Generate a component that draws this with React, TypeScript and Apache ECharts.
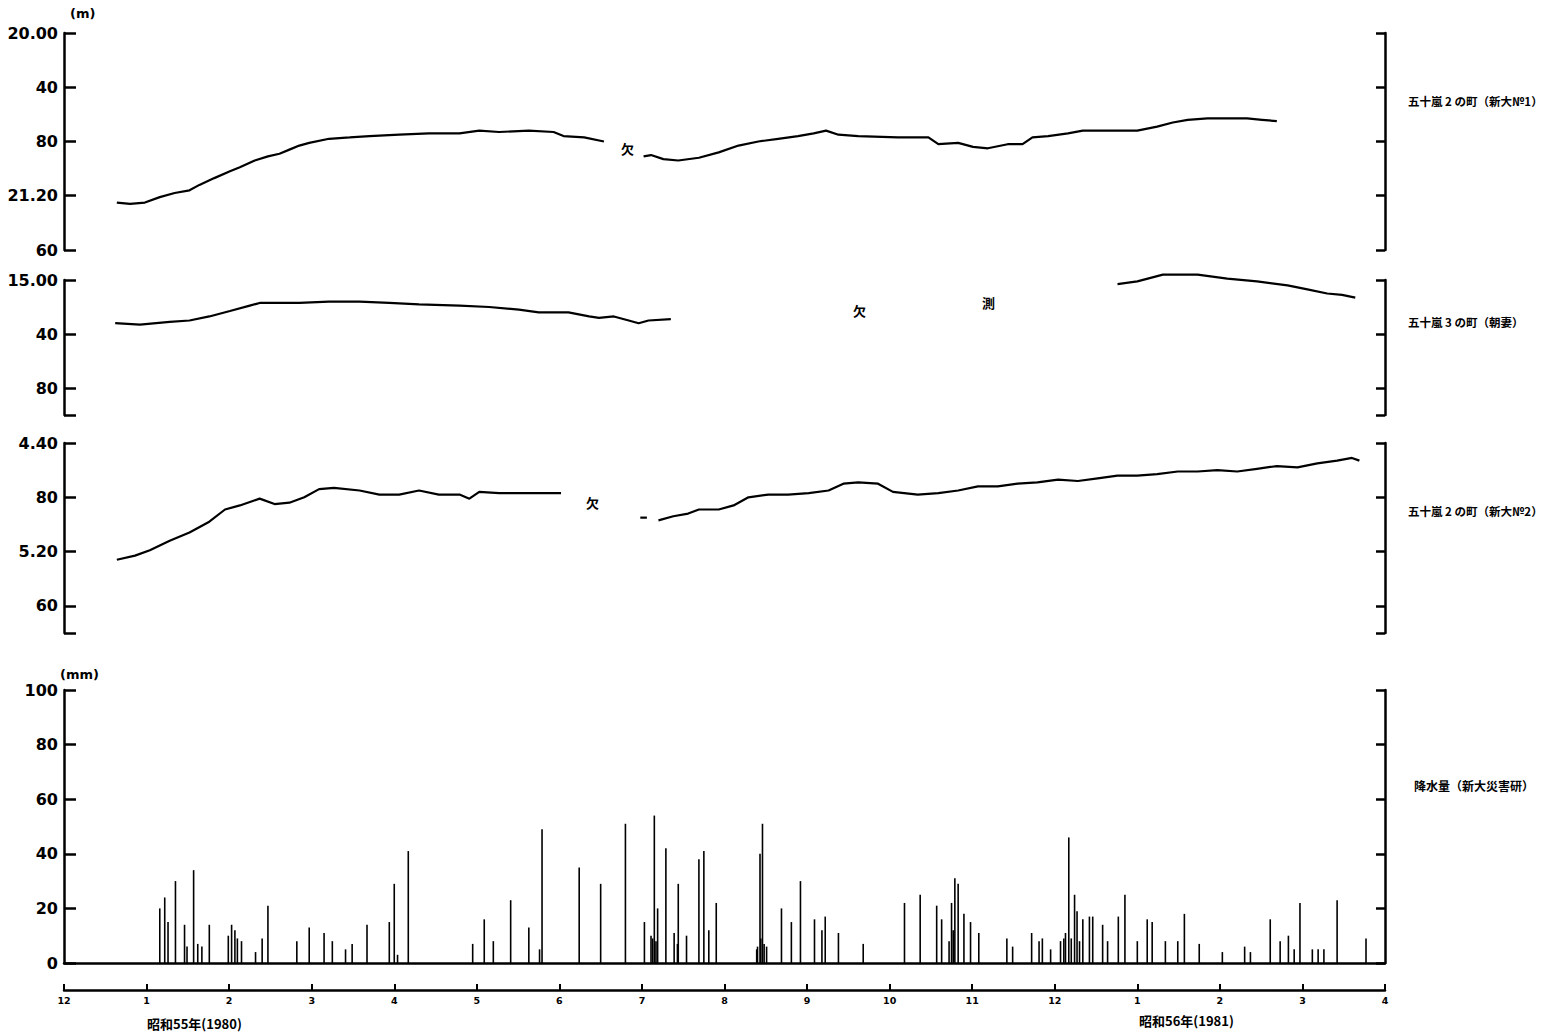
import React, { useEffect, useRef } from "react";
import * as echarts from "echarts";

// x values are months counted from 1 Dec 1979 (0) to 1 Apr 1981 (16)
const monthTickLabels = ["12", "1", "2", "3", "4", "5", "6", "7", "8", "9", "10", "11", "12", "1", "2", "3", "4"];

// Panel 1: 五十嵐2の町（新大№1） groundwater depth (m)
const well1TickLabels = ["20.00", "40", "80", "21.20", "60"];
const well1SegA: [number, number][] = [
  [0.64, 21.25], [0.80, 21.26], [0.98, 21.25], [1.16, 21.21], [1.34, 21.18], [1.52, 21.16],
  [1.64, 21.12], [1.82, 21.07], [2.01, 21.02], [2.13, 20.99], [2.31, 20.94], [2.47, 20.91],
  [2.61, 20.89], [2.73, 20.86], [2.85, 20.83], [2.97, 20.81], [3.21, 20.78], [3.46, 20.77],
  [3.70, 20.76], [4.06, 20.75], [4.42, 20.74], [4.79, 20.74], [5.03, 20.72], [5.27, 20.73],
  [5.63, 20.72], [5.93, 20.73], [6.05, 20.76], [6.30, 20.77], [6.54, 20.80],
];
const well1SegB: [number, number][] = [
  [7.02, 20.91], [7.11, 20.90], [7.26, 20.93], [7.44, 20.94], [7.69, 20.92], [7.93, 20.88],
  [8.17, 20.83], [8.41, 20.80], [8.65, 20.78], [8.89, 20.76], [9.08, 20.74], [9.23, 20.72],
  [9.38, 20.75], [9.62, 20.76], [10.10, 20.77], [10.47, 20.77], [10.59, 20.82], [10.83, 20.81],
  [11.01, 20.84], [11.19, 20.85], [11.43, 20.82], [11.61, 20.82], [11.73, 20.77], [11.92, 20.76],
  [12.16, 20.74], [12.34, 20.72], [12.52, 20.72], [12.76, 20.72], [13.00, 20.72], [13.24, 20.69],
  [13.43, 20.66], [13.61, 20.64], [13.85, 20.63], [14.09, 20.63], [14.33, 20.63], [14.51, 20.64],
  [14.69, 20.65],
];

// Panel 2: 五十嵐3の町（朝妻）
const well2TickLabels = ["15.00", "40", "80"];
const well2SegA: [number, number][] = [
  [0.62, 15.32], [0.92, 15.33], [1.28, 15.31], [1.52, 15.30], [1.76, 15.27], [2.01, 15.23],
  [2.25, 15.19], [2.37, 15.17], [2.61, 15.17], [2.85, 15.17], [3.21, 15.16], [3.58, 15.16],
  [3.94, 15.17], [4.30, 15.18], [4.79, 15.19], [5.15, 15.20], [5.51, 15.22], [5.75, 15.24],
  [6.11, 15.24], [6.36, 15.27], [6.48, 15.28], [6.66, 15.27], [6.84, 15.30], [6.96, 15.32],
  [7.08, 15.30], [7.35, 15.29],
];
const well2SegB: [number, number][] = [
  [12.76, 15.03], [13.00, 15.01], [13.31, 14.96], [13.73, 14.96], [14.09, 14.99], [14.45, 15.01],
  [14.82, 15.04], [15.06, 15.07], [15.30, 15.10], [15.48, 15.11], [15.64, 15.13],
];

// Panel 3: 五十嵐2の町（新大№2）
const well3TickLabels = ["4.40", "80", "5.20", "60"];
const well3SegA: [number, number][] = [
  [0.64, 5.26], [0.86, 5.23], [1.04, 5.19], [1.28, 5.12], [1.52, 5.06], [1.76, 4.98],
  [1.95, 4.89], [2.13, 4.86], [2.37, 4.81], [2.55, 4.85], [2.73, 4.84], [2.91, 4.80],
  [3.09, 4.74], [3.27, 4.73], [3.58, 4.75], [3.82, 4.78], [4.06, 4.78], [4.30, 4.75],
  [4.54, 4.78], [4.79, 4.78], [4.91, 4.81], [5.03, 4.76], [5.27, 4.77], [5.63, 4.77], [6.02, 4.77],
];
const well3SegB: [number, number][] = [[6.98, 4.95], [7.06, 4.95]];
const well3SegC: [number, number][] = [
  [7.20, 4.97], [7.38, 4.94], [7.56, 4.92], [7.69, 4.89], [7.93, 4.89], [8.11, 4.86],
  [8.29, 4.80], [8.53, 4.78], [8.77, 4.78], [9.02, 4.77], [9.26, 4.75], [9.44, 4.70],
  [9.62, 4.69], [9.86, 4.70], [10.04, 4.76], [10.34, 4.78], [10.59, 4.77], [10.83, 4.75],
  [11.07, 4.72], [11.31, 4.72], [11.55, 4.70], [11.79, 4.69], [12.04, 4.67], [12.28, 4.68],
  [12.52, 4.66], [12.76, 4.64], [13.00, 4.64], [13.24, 4.63], [13.49, 4.61], [13.73, 4.61],
  [13.97, 4.60], [14.21, 4.61], [14.45, 4.59], [14.69, 4.57], [14.94, 4.58], [15.18, 4.55],
  [15.42, 4.53], [15.60, 4.51], [15.69, 4.53],
];

// Panel 4: 降水量（新大災害研） daily precipitation (mm)
const rainTickLabels = ["0", "20", "40", "60", "80", "100"];
const rainMonth = [
  1.16, 1.22, 1.26, 1.35, 1.46, 1.49, 1.57, 1.62, 1.67, 1.76, 1.99, 2.03, 2.07, 2.10, 2.15,
  2.32, 2.40, 2.47, 2.82, 2.97, 3.15, 3.25, 3.41, 3.49, 3.67, 3.94, 4.00, 4.04, 4.17, 4.95,
  5.09, 5.20, 5.41, 5.63, 5.76, 5.79, 6.24, 6.50, 6.80, 7.03, 7.11, 7.13, 7.15, 7.17, 7.19,
  7.29, 7.39, 7.43, 7.44, 7.54, 7.69, 7.75, 7.81, 7.90, 8.39, 8.40, 8.43, 8.44, 8.46, 8.48,
  8.51, 8.69, 8.81, 8.92, 9.09, 9.18, 9.22, 9.38, 9.68, 10.18, 10.37, 10.57, 10.63, 10.72,
  10.75, 10.77, 10.79, 10.83, 10.90, 10.98, 11.08, 11.42, 11.49, 11.72, 11.81, 11.85, 11.95,
  12.07, 12.11, 12.13, 12.17, 12.20, 12.24, 12.27, 12.30, 12.34, 12.42, 12.46, 12.58, 12.64,
  12.77, 12.85, 13.00, 13.12, 13.18, 13.34, 13.49, 13.57, 13.75, 14.03, 14.30, 14.37, 14.61,
  14.73, 14.83, 14.90, 14.97, 15.12, 15.19, 15.26, 15.42, 15.77,
];
const rainMm = [
  20, 24, 15, 30, 14, 6, 34, 7, 6, 14, 10, 14, 12, 9, 8,
  4, 9, 21, 8, 13, 11, 8, 5, 7, 14, 15, 29, 3, 41, 7,
  16, 8, 23, 13, 5, 49, 35, 29, 51, 15, 10, 9, 54, 8, 20,
  42, 11, 7, 29, 10, 38, 41, 12, 22, 5, 6, 40, 9, 51, 7,
  6, 20, 15, 30, 16, 12, 17, 11, 7, 22, 25, 21, 16, 8,
  22, 12, 31, 29, 18, 15, 11, 9, 6, 11, 8, 9, 5,
  8, 9, 11, 46, 9, 25, 19, 8, 16, 17, 17, 14, 8,
  17, 25, 8, 16, 15, 8, 8, 18, 7, 4, 6, 4, 16,
  8, 10, 5, 22, 5, 5, 5, 23, 9,
];

const seriesLabels = [
  "五十嵐 2 の町（新大№1）",
  "五十嵐 3 の町（朝妻）",
  "五十嵐 2 の町（新大№2）",
  "降水量（新大災害研）",
];
const yearLabels = ["昭和55年(1980)", "昭和56年(1981)"];

const LEFT = 64;
const RIGHT = 172;
const AXIS_COLOR = "#000";
const NUM_FONT = "DejaVu Sans";
const CJK_FONT = "Noto Sans CJK JP";

function makeY(
  min: number,
  max: number,
  interval: number,
  inverse: boolean,
  labels: string[],
  gridIndex: number,
  side: "left" | "right"
) {
  return {
    type: "value",
    gridIndex,
    position: side,
    min,
    max,
    interval,
    inverse,
    splitLine: { show: false },
    axisLine: { show: true, lineStyle: { color: AXIS_COLOR, width: 2.5 } },
    axisTick: {
      show: true,
      inside: true,
      length: side === "left" ? 12 : 9,
      lineStyle: { color: AXIS_COLOR, width: 2.5 },
    },
    axisLabel: {
      show: side === "left",
      margin: 6,
      color: "#000",
      fontFamily: NUM_FONT,
      fontWeight: "bold",
      fontSize: 16,
      formatter: (v: number) => {
        const f = (v - min) / interval;
        const i = Math.round(f);
        if (Math.abs(f - i) > 0.02) return "";
        return labels[i] ?? "";
      },
    },
  };
}

function makeX(gridIndex: number, mode: "hidden" | "base" | "months") {
  return {
    type: "value",
    gridIndex,
    min: 0,
    max: 16,
    interval: 1,
    show: mode !== "hidden",
    splitLine: { show: false },
    axisLine: { show: mode !== "hidden", onZero: false, lineStyle: { color: AXIS_COLOR, width: 2.5 } },
    axisTick: {
      show: mode === "months",
      inside: true,
      length: 6,
      lineStyle: { color: AXIS_COLOR, width: 2 },
    },
    axisLabel: {
      show: mode === "months",
      margin: 5,
      color: "#000",
      fontFamily: NUM_FONT,
      fontWeight: "bold",
      fontSize: 9.5,
      formatter: (v: number) => monthTickLabels[Math.round(v)] ?? "",
    },
  };
}

function lineSeries(data: [number, number][], xi: number, yi: number) {
  return {
    type: "line",
    xAxisIndex: xi,
    yAxisIndex: yi,
    data,
    showSymbol: false,
    symbol: "none",
    clip: false,
    lineStyle: { color: "#000", width: 2.2 },
    z: 3,
  };
}

export default function App() {
  const ref = useRef<HTMLDivElement>(null);

  useEffect(() => {
    document.body.style.margin = "0";
    if (!ref.current) return;
    const chart = echarts.init(ref.current, null, { renderer: "svg" });

    const rainData = rainMonth.map((m, i) => [m, rainMm[i]]);

    const sideText = (text: string, x: number, y: number, size: number) => ({
      type: "text",
      left: x,
      top: y - size / 2 - 1,
      style: {
        text,
        fill: "#000",
        font: `bold ${size}px "${CJK_FONT}"`,
      },
    });

    const option = {
      animation: false,
      backgroundColor: "#fff",
      grid: [
        { left: LEFT, right: RIGHT, top: 33, height: 217 },
        { left: LEFT, right: RIGHT, top: 280, height: 135 },
        { left: LEFT, right: RIGHT, top: 443, height: 190 },
        { left: LEFT, right: RIGHT, top: 690, height: 273 },
        { left: LEFT, right: RIGHT, top: 965, height: 25 },
      ],
      xAxis: [makeX(0, "hidden"), makeX(1, "hidden"), makeX(2, "hidden"), makeX(3, "base"), makeX(4, "months")],
      yAxis: [
        makeY(20.0, 21.6, 0.4, true, well1TickLabels, 0, "left"),
        makeY(20.0, 21.6, 0.4, true, well1TickLabels, 0, "right"),
        makeY(15.0, 16.0, 0.4, true, well2TickLabels, 1, "left"),
        makeY(15.0, 16.0, 0.4, true, well2TickLabels, 1, "right"),
        makeY(4.4, 5.8, 0.4, true, well3TickLabels, 2, "left"),
        makeY(4.4, 5.8, 0.4, true, well3TickLabels, 2, "right"),
        makeY(0, 100, 20, false, rainTickLabels, 3, "left"),
        makeY(0, 100, 20, false, rainTickLabels, 3, "right"),
        { type: "value", gridIndex: 4, show: false, min: 0, max: 1 },
      ],
      series: [
        lineSeries(well1SegA, 0, 0),
        lineSeries(well1SegB, 0, 0),
        lineSeries(well2SegA, 1, 2),
        lineSeries(well2SegB, 1, 2),
        lineSeries(well3SegA, 2, 4),
        lineSeries(well3SegB, 2, 4),
        lineSeries(well3SegC, 2, 4),
        {
          type: "bar",
          xAxisIndex: 3,
          yAxisIndex: 6,
          data: rainData,
          barWidth: 1.6,
          itemStyle: { color: "#000" },
          z: 3,
        },
      ],
      graphic: [
        {
          type: "text",
          left: 70,
          top: 7,
          style: { text: "(m)", fill: "#000", font: `bold 13px "${NUM_FONT}"` },
        },
        {
          type: "text",
          left: 60,
          top: 668,
          style: { text: "(mm)", fill: "#000", font: `bold 13px "${NUM_FONT}"` },
        },
        sideText(seriesLabels[0], 1408, 102, 11.5),
        sideText(seriesLabels[1], 1408, 323, 11.5),
        sideText(seriesLabels[2], 1408, 512, 11.5),
        sideText(seriesLabels[3], 1414, 786, 12),
        sideText("欠", 621, 149, 13),
        sideText("欠", 853, 311, 13),
        sideText("測", 982, 303, 13),
        sideText("欠", 586, 503, 13),
        sideText(yearLabels[0], 147, 1024, 13),
        sideText(yearLabels[1], 1139, 1021, 13),
      ],
    };

    chart.setOption(option as any);
    return () => chart.dispose();
  }, []);

  return <div ref={ref} style={{ width: 1557, height: 1033 }} />;
}
